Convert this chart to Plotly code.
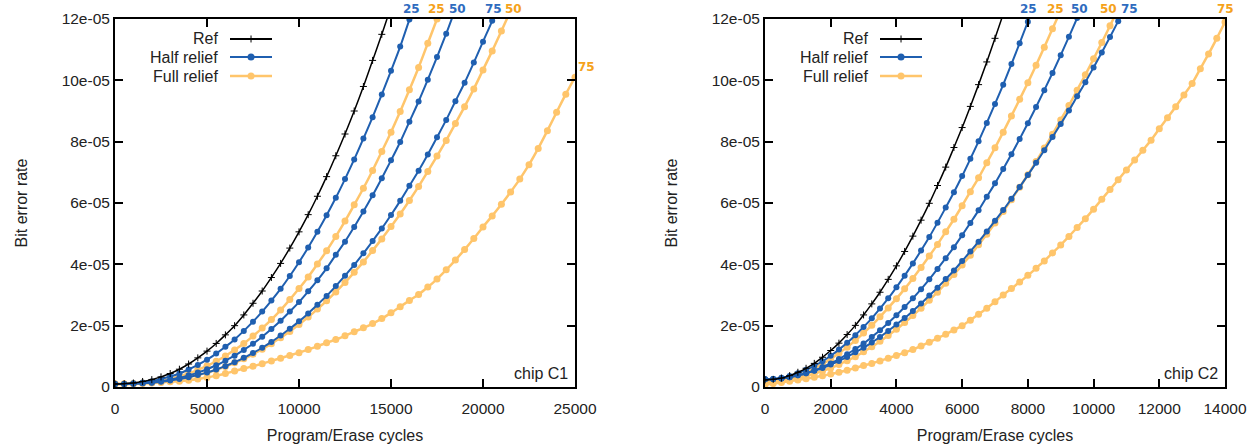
import plotly.graph_objects as go

# ---------------- data (BER in units of 1e-5) ----------------
# chip C1, sampled every 500 P/E cycles
c1_step = 500
c1_ref = [0.10, 0.11, 0.13, 0.18, 0.24, 0.33, 0.44, 0.58, 0.75, 0.95, 1.17, 1.42, 1.70, 2.00, 2.35, 2.73,
          3.13, 3.57, 4.03, 4.53, 5.06, 5.62, 6.22, 6.86, 7.54, 8.25, 9.00, 9.80, 10.65, 11.50, 12.40]
c1_half25 = [0.10, 0.10, 0.12, 0.15, 0.19, 0.26, 0.34, 0.44, 0.57, 0.72, 0.89, 1.09, 1.31, 1.55, 1.83, 2.13,
             2.46, 2.82, 3.20, 3.62, 4.07, 4.55, 5.06, 5.60, 6.17, 6.78, 7.42, 8.10, 8.80, 9.54, 10.31, 11.10,
             11.98, 12.84]
c1_full25 = [0.10, 0.10, 0.11, 0.13, 0.17, 0.21, 0.27, 0.35, 0.44, 0.56, 0.69, 0.84, 1.01, 1.21, 1.42, 1.66,
             1.92, 2.20, 2.51, 2.85, 3.21, 3.59, 4.01, 4.44, 4.91, 5.41, 5.94, 6.48, 7.06, 7.68, 8.31, 8.98,
             9.69, 10.42, 11.21, 12.00, 12.82]
c1_half50 = [0.10, 0.10, 0.11, 0.12, 0.15, 0.19, 0.24, 0.30, 0.38, 0.47, 0.58, 0.71, 0.86, 1.02, 1.21, 1.41,
             1.64, 1.89, 2.16, 2.46, 2.77, 3.12, 3.48, 3.87, 4.31, 4.74, 5.22, 5.72, 6.25, 6.81, 7.39, 7.99,
             8.65, 9.31, 10.02, 10.76, 11.52, 12.33]
c1_half75 = [0.10, 0.10, 0.11, 0.12, 0.14, 0.17, 0.21, 0.26, 0.32, 0.39, 0.47, 0.57, 0.68, 0.81, 0.95, 1.11,
             1.28, 1.47, 1.68, 1.90, 2.14, 2.40, 2.68, 2.97, 3.29, 3.63, 3.98, 4.36, 4.76, 5.17, 5.61, 6.07,
             6.56, 7.05, 7.58, 8.14, 8.71, 9.32, 9.92, 10.58, 11.26, 11.94, 12.68]
c1_full50 = [0.10, 0.10, 0.11, 0.12, 0.14, 0.17, 0.21, 0.26, 0.32, 0.39, 0.47, 0.56, 0.67, 0.79, 0.92, 1.07,
             1.23, 1.41, 1.61, 1.81, 2.04, 2.28, 2.54, 2.81, 3.10, 3.41, 3.74, 4.08, 4.45, 4.83, 5.23, 5.64,
             6.08, 6.54, 7.03, 7.53, 8.04, 8.59, 9.14, 9.72, 10.34, 10.96, 11.61, 12.27]
c1_full75 = [0.10, 0.10, 0.11, 0.12, 0.13, 0.15, 0.17, 0.19, 0.22, 0.26, 0.31, 0.37, 0.44, 0.52, 0.60, 0.68,
             0.76, 0.85, 0.94, 1.03, 1.12, 1.22, 1.33, 1.44, 1.55, 1.67, 1.80, 1.93, 2.07, 2.23, 2.42, 2.62,
             2.82, 3.02, 3.26, 3.52, 3.82, 4.14, 4.48, 4.84, 5.22, 5.58, 5.96, 6.36, 6.78, 7.25, 7.78, 8.36,
             8.96, 9.55, 10.10]

# chip C2, sampled every 250 P/E cycles
c2_step = 250
c2_ref = [0.23, 0.25, 0.29, 0.37, 0.48, 0.61, 0.77, 0.97, 1.19, 1.43, 1.71, 2.01, 2.35, 2.71, 3.09, 3.51,
          3.95, 4.42, 4.92, 5.44, 5.99, 6.57, 7.17, 7.81, 8.46, 9.15, 9.86, 10.60, 11.37, 12.16]
c2_half25 = [0.25, 0.26, 0.30, 0.36, 0.45, 0.56, 0.69, 0.84, 1.02, 1.22, 1.44, 1.69, 1.96, 2.24, 2.56, 2.89,
             3.25, 3.63, 4.03, 4.45, 4.89, 5.36, 5.85, 6.35, 6.88, 7.44, 8.01, 8.61, 9.23, 9.86, 10.53, 11.21,
             11.91, 12.63]
c2_full25 = [0.15, 0.17, 0.21, 0.28, 0.36, 0.47, 0.60, 0.75, 0.91, 1.10, 1.30, 1.52, 1.76, 2.01, 2.29, 2.58,
             2.88, 3.20, 3.54, 3.90, 4.27, 4.65, 5.06, 5.47, 5.91, 6.37, 6.82, 7.31, 7.80, 8.31, 8.84, 9.38,
             9.92, 10.49, 11.08, 11.68, 12.28]
c2_half50 = [0.25, 0.26, 0.28, 0.32, 0.38, 0.45, 0.54, 0.65, 0.77, 0.91, 1.07, 1.24, 1.42, 1.63, 1.85, 2.09,
             2.34, 2.61, 2.89, 3.19, 3.51, 3.85, 4.20, 4.56, 4.95, 5.35, 5.76, 6.20, 6.64, 7.11, 7.59, 8.09,
             8.60, 9.13, 9.68, 10.24, 10.82, 11.42, 12.03]
c2_half75 = [0.25, 0.26, 0.28, 0.32, 0.38, 0.45, 0.53, 0.62, 0.73, 0.85, 0.98, 1.13, 1.28, 1.45, 1.63, 1.83,
             2.04, 2.25, 2.48, 2.72, 2.98, 3.24, 3.52, 3.80, 4.11, 4.42, 4.74, 5.07, 5.42, 5.77, 6.14, 6.52,
             6.91, 7.31, 7.72, 8.15, 8.58, 9.02, 9.48, 9.94, 10.42, 10.91, 11.41, 11.93, 12.45]
c2_full50 = [0.20, 0.21, 0.23, 0.26, 0.31, 0.36, 0.44, 0.52, 0.62, 0.73, 0.86, 0.99, 1.15, 1.31, 1.49, 1.68,
             1.88, 2.10, 2.33, 2.57, 2.83, 3.09, 3.38, 3.67, 3.98, 4.30, 4.64, 4.98, 5.35, 5.72, 6.11, 6.51,
             6.92, 7.35, 7.79, 8.24, 8.71, 9.18, 9.68, 10.18, 10.70, 11.23, 11.78, 12.33]
c2_full75 = [0.07, 0.11, 0.15, 0.19, 0.23, 0.27, 0.32, 0.37, 0.42, 0.48, 0.55, 0.62, 0.70, 0.77, 0.85, 0.94,
             1.03, 1.12, 1.22, 1.34, 1.46, 1.59, 1.72, 1.86, 2.00, 2.18, 2.37, 2.57, 2.78, 3.00, 3.21, 3.42,
             3.64, 3.87, 4.11, 4.37, 4.63, 4.91, 5.20, 5.49, 5.80, 6.12, 6.44, 6.76, 7.08, 7.40, 7.72, 8.05,
             8.42, 8.78, 9.14, 9.52, 9.90, 10.38, 10.86, 11.37, 11.90]

# curve-end labels: (P/E cycles where the curve leaves the top, text, kind)
c1_labels = [(16100, "25", "half"), (17450, "25", "full"), (18600, "50", "half"),
             (20550, "75", "half"), (21650, "50", "full")]
c2_labels = [(8030, "25", "half"), (8830, "25", "full"), (9560, "50", "half"),
             (10440, "50", "full"), (11100, "75", "half")]

y_ticks = [0, 2, 4, 6, 8, 10, 12]
y_ticktext = ["0", "2e-05", "4e-05", "6e-05", "8e-05", "10e-05", "12e-05"]
c1_xticks = [0, 5000, 10000, 15000, 20000, 25000]
c1_xticktext = ["0", "5000", "10000", "15000", "20000", "25000"]
c2_xticks = [0, 2000, 4000, 6000, 8000, 10000, 12000, 14000]
c2_xticktext = ["0", "2000", "4000", "6000", "8000", "10000", "12000", "14000"]

# ---------------- styles ----------------
BLACK = "#000000"
BLUE = "#1f5fb0"
ORANGE = "#ffc56b"
BLUE_TXT = "#2f6cbf"
ORANGE_TXT = "#f5a21b"
FONT = "Liberation Sans, Arial, sans-serif"


def xs(vals, step):
    return [i * step for i in range(len(vals))]


fig = go.Figure()


def add_panel(xa, ya, step, ref, halfs, fulls):
    for v in fulls:
        fig.add_trace(go.Scatter(x=xs(v, step), y=v, mode="lines+markers", xaxis=xa, yaxis=ya,
                                 line=dict(color=ORANGE, width=2.5, shape="spline"),
                                 marker=dict(symbol="circle", size=7, color=ORANGE),
                                 showlegend=False))
    for v in halfs:
        fig.add_trace(go.Scatter(x=xs(v, step), y=v, mode="lines+markers", xaxis=xa, yaxis=ya,
                                 line=dict(color=BLUE, width=2, shape="spline"),
                                 marker=dict(symbol="circle", size=6, color=BLUE),
                                 showlegend=False))
    fig.add_trace(go.Scatter(x=xs(ref, step), y=ref, mode="lines+markers", xaxis=xa, yaxis=ya,
                             line=dict(color=BLACK, width=1.5, shape="spline"),
                             marker=dict(symbol="cross-thin", size=5, line=dict(color=BLACK, width=1)),
                             showlegend=False))


add_panel("x", "y", c1_step, c1_ref, [c1_half25, c1_half50, c1_half75], [c1_full25, c1_full50, c1_full75])
add_panel("x2", "y2", c2_step, c2_ref, [c2_half25, c2_half50, c2_half75], [c2_full25, c2_full50, c2_full75])

axis_common = dict(showline=True, linewidth=2, linecolor=BLACK, mirror="ticks", ticks="inside",
                   ticklen=8, tickwidth=1.5, tickcolor=BLACK, showgrid=False, zeroline=False,
                   automargin=False, tickfont=dict(family=FONT, size=15.5, color="#222"))
title_font = dict(family=FONT, size=16, color="#222")

fig.update_layout(
    width=1255, height=446,
    margin=dict(l=115, r=30, t=19, b=59),
    paper_bgcolor="white", plot_bgcolor="white",
    font=dict(family=FONT, size=15, color="#222"),
    showlegend=False,
    xaxis=dict(domain=[0, 460 / 1110], range=[0, 25000], tickvals=c1_xticks, ticktext=c1_xticktext,
               ticklabelstandoff=6,
               title=dict(text="Program/Erase cycles", standoff=14, font=title_font), **axis_common),
    yaxis=dict(domain=[0, 1], range=[0, 12], tickvals=y_ticks, ticktext=y_ticktext,
               title=dict(text="Bit error rate", standoff=30, font=title_font), **axis_common),
    xaxis2=dict(domain=[650 / 1110, 1], range=[0, 14000], tickvals=c2_xticks, ticktext=c2_xticktext,
                anchor="y2", ticklabelstandoff=6,
                title=dict(text="Program/Erase cycles", standoff=14, font=title_font), **axis_common),
    yaxis2=dict(domain=[0, 1], range=[0, 12], tickvals=y_ticks, ticktext=y_ticktext, anchor="x2",
                title=dict(text="Bit error rate", standoff=30, font=title_font), **axis_common),
)

annotations = []
shapes = []


def panel_decor(xa, ya, labels, chip, right_label):
    xd, yd = xa + " domain", ya + " domain"
    for xpos, txt, kind in labels:
        annotations.append(dict(x=xpos, y=1, xref=xa, yref=yd, text="<b>%s</b>" % txt, showarrow=False,
                                xanchor="center", yanchor="bottom", yshift=1,
                                font=dict(family="DejaVu Sans", size=12,
                                          color=BLUE_TXT if kind == "half" else ORANGE_TXT)))
    annotations.append(right_label)
    annotations.append(dict(x=1, y=0, xref=xd, yref=yd, text=chip, showarrow=False, xanchor="right",
                            yanchor="bottom", xshift=-5, yshift=3, font=dict(family=FONT, size=16, color="#222")))
    # legend (gnuplot style: text then sample)
    entries = [("Ref", BLACK, "plus", 0.9457), ("Half relief", BLUE, "dot", 0.8967),
               ("Full relief", ORANGE, "dot", 0.845)]
    for name, col, mk, yy in entries:
        annotations.append(dict(x=0.228, y=yy, xref=xd, yref=yd, text=name, showarrow=False,
                                xanchor="right", yanchor="middle", font=dict(family=FONT, size=16, color="#222")))
        shapes.append(dict(type="line", xref=xd, yref=yd, x0=0.25, x1=0.3413, y0=yy, y1=yy,
                           line=dict(color=col, width=2.5 if col == ORANGE else 2)))
        if mk == "dot":
            shapes.append(dict(type="circle", xref=xd, yref=yd, xsizemode="pixel", ysizemode="pixel",
                               xanchor=0.2957, yanchor=yy, x0=-3.5, x1=3.5, y0=-3.5, y1=3.5,
                               fillcolor=col, line=dict(color=col, width=0)))
        else:
            shapes.append(dict(type="line", xref=xd, yref=yd, xsizemode="pixel", ysizemode="pixel",
                               xanchor=0.2957, yanchor=yy, x0=0, x1=0, y0=-3.5, y1=3.5,
                               line=dict(color=col, width=1)))


panel_decor("x", "y", c1_labels, "chip C1",
            dict(x=25000, y=c1_full75[-1], xref="x", yref="y", text="<b>75</b>", showarrow=False,
                 xanchor="left", yanchor="bottom", xshift=1, yshift=1,
                 font=dict(family="DejaVu Sans", size=12, color=ORANGE_TXT)))
panel_decor("x2", "y2", c2_labels, "chip C2",
            dict(x=14000, y=1, xref="x2", yref="y2 domain", text="<b>75</b>", showarrow=False,
                 xanchor="center", yanchor="bottom", yshift=1,
                 font=dict(family="DejaVu Sans", size=12, color=ORANGE_TXT)))

fig.update_layout(annotations=annotations, shapes=shapes)
# remove the default 8px page margin so the figure sits at the window's top-left corner
fig.write_html("out.html", config={"displayModeBar": False},
               post_script="document.body.style.margin='0px';")
